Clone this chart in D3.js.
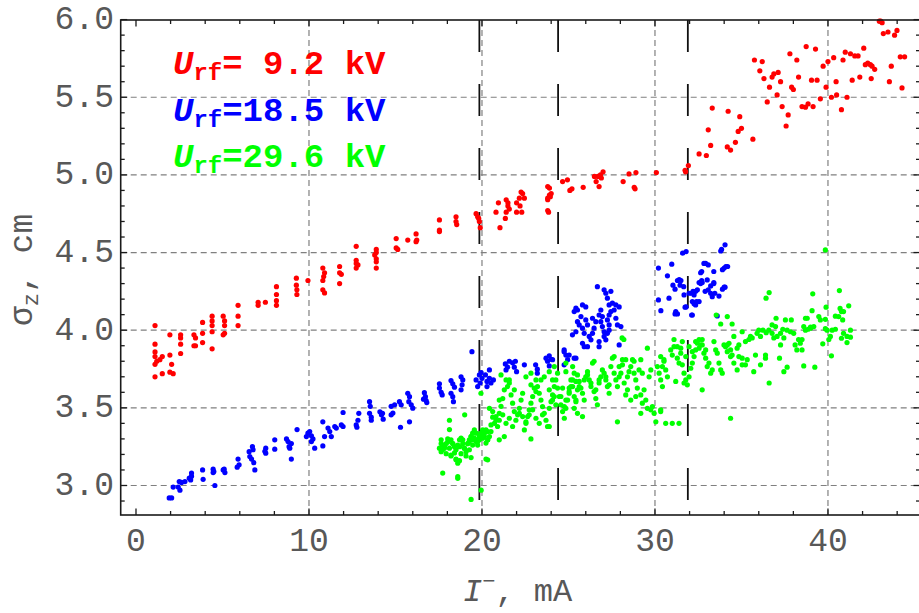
<!DOCTYPE html>
<html>
<head>
<meta charset="utf-8">
<script src="https://cdn.jsdelivr.net/npm/d3@7"></script>
<style>
html,body{margin:0;padding:0;background:#fff;}
svg{display:block;}
</style>
</head>
<body>
<svg id="chart" width="919" height="613"></svg>
<script>
// ---- data (I in mA, sigma_z in cm) ----
const redSeries = [[1.10,4.03],[1.10,3.91],[1.10,3.86],[1.10,3.83],[1.20,3.80],[1.10,3.78],[1.10,3.70],[1.52,3.83],[1.38,3.81],[1.52,3.72],[1.96,3.97],[1.96,3.84],[2.06,3.78],[1.96,3.73],[2.15,3.72],[2.58,3.97],[2.58,3.95],[2.58,3.91],[2.58,3.85],[3.35,3.97],[3.44,3.95],[3.35,3.90],[3.44,3.90],[3.85,4.05],[3.85,3.98],[3.85,3.92],[4.40,4.09],[4.40,4.06],[4.40,4.03],[4.40,3.99],[4.40,3.88],[5.04,4.09],[5.12,4.06],[5.12,4.03],[5.12,3.98],[5.04,3.97],[5.90,4.16],[5.90,4.09],[5.90,4.03],[7.06,4.18],[7.06,4.16],[7.48,4.18],[8.12,4.28],[8.12,4.23],[8.12,4.19],[8.12,4.16],[9.27,4.335],[9.27,4.29],[9.30,4.26],[9.30,4.23],[9.94,4.32],[10.80,4.40],[10.90,4.37],[10.85,4.345],[10.80,4.32],[10.80,4.26],[10.90,4.24],[11.77,4.41],[11.87,4.36],[11.77,4.37],[11.77,4.30],[12.73,4.54],[12.73,4.45],[12.73,4.43],[12.83,4.42],[12.73,4.40],[13.89,4.52],[13.89,4.50],[13.80,4.485],[13.89,4.46],[13.89,4.44],[13.89,4.40],[15.04,4.59],[15.04,4.53],[15.13,4.52],[15.71,4.58],[16.19,4.62],[16.23,4.58],[16.19,4.57],[17.54,4.71],[17.54,4.645],[17.54,4.635],[18.50,4.73],[18.50,4.70],[18.54,4.68],[19.66,4.75],[19.75,4.73],[19.81,4.72],[19.85,4.70],[19.90,4.66],[20.81,4.76],[20.95,4.82],[21.04,4.66],[21.35,4.72],[21.40,4.84],[21.50,4.82],[21.50,4.80],[21.58,4.78],[21.40,4.76],[22.00,4.82],[22.00,4.76],[22.16,4.85],[22.26,4.89],[22.35,4.88],[22.45,4.85],[22.30,4.76],[22.20,4.80],[23.80,4.925],[23.90,4.915],[23.90,4.87],[23.95,4.86],[23.80,4.85],[23.80,4.84],[23.80,4.77],[23.85,4.76],[24.00,4.88],[24.66,4.957],[24.94,4.968],[25.08,4.90],[25.20,4.91],[25.85,4.92],[26.50,4.99],[26.60,4.957],[26.70,4.99],[26.77,4.925],[26.85,5.00],[27.00,5.02],[26.90,4.98],[28.16,4.957],[28.50,5.006],[28.90,5.015],[28.80,4.92],[28.85,4.91],[30.08,5.015],[31.74,5.03],[31.93,5.06],[31.77,5.02],[32.55,5.135],[32.97,5.125],[33.08,5.29],[33.22,5.19],[33.31,5.43],[34.18,5.18],[34.37,5.16],[34.23,5.41],[34.65,5.21],[34.81,5.28],[35.00,5.30],[34.90,5.375],[35.66,5.23],[35.75,5.74],[36.20,5.73],[36.06,5.67],[36.30,5.62],[36.49,5.47],[36.62,5.565],[36.77,5.63],[36.87,5.65],[37.06,5.515],[37.12,5.66],[37.26,5.60],[37.35,5.44],[37.58,5.315],[37.70,5.386],[37.80,5.78],[37.90,5.565],[38.00,5.55],[38.20,5.74],[38.30,5.63],[38.50,5.44],[38.70,5.436],[38.85,5.457],[39.14,5.44],[38.74,5.826],[39.28,5.81],[39.05,5.61],[39.37,5.61],[39.56,5.49],[39.72,5.70],[39.89,5.565],[40.00,5.73],[40.20,5.50],[40.50,5.515],[40.33,5.755],[40.47,5.60],[40.78,5.42],[40.87,5.74],[41.00,5.79],[41.10,5.50],[41.30,5.78],[41.55,5.766],[41.74,5.766],[41.40,5.61],[41.84,5.63],[42.07,5.816],[42.16,5.71],[42.30,5.72],[42.45,5.71],[42.55,5.70],[42.70,5.68],[42.50,5.62],[42.97,5.99],[43.13,5.98],[43.05,5.99],[43.20,5.91],[43.47,5.92],[43.66,5.70],[43.55,5.60],[43.85,5.90],[43.99,5.93],[44.28,5.56],[44.18,5.76],[44.43,5.76]];

const blueSeries = [[1.92,2.92],[2.06,2.92],[2.15,2.99],[2.50,3.025],[2.44,2.99],[2.54,2.97],[2.63,3.02],[2.83,3.025],[3.08,3.047],[3.21,3.08],[3.16,3.036],[3.21,3.06],[3.85,3.10],[3.88,3.04],[4.46,3.105],[4.50,3.09],[4.46,3.083],[4.56,3.00],[5.04,3.10],[5.14,3.083],[5.10,3.105],[5.90,3.17],[5.96,3.133],[5.85,3.118],[6.54,3.218],[6.58,3.186],[6.73,3.25],[6.77,3.23],[6.68,3.17],[6.81,3.147],[6.87,3.10],[7.50,3.24],[7.50,3.208],[7.45,3.22],[8.02,3.294],[8.02,3.234],[8.70,3.30],[8.79,3.283],[8.85,3.25],[8.89,3.24],[8.98,3.27],[8.98,3.17],[9.31,3.36],[9.85,3.315],[9.94,3.337],[10.04,3.347],[10.14,3.32],[10.23,3.30],[10.33,3.24],[10.14,3.283],[10.80,3.41],[10.90,3.315],[10.80,3.255],[11.10,3.37],[11.20,3.347],[11.29,3.315],[11.58,3.37],[11.49,3.38],[11.87,3.39],[11.97,3.47],[11.97,3.38],[12.73,3.39],[12.83,3.42],[12.88,3.465],[12.77,3.375],[13.50,3.54],[13.54,3.51],[13.50,3.465],[13.60,3.42],[13.60,3.44],[14.10,3.475],[14.19,3.455],[14.29,3.427],[14.25,3.465],[14.75,3.51],[14.75,3.455],[14.85,3.466],[14.95,3.52],[15.23,3.54],[15.33,3.52],[15.29,3.375],[15.81,3.41],[15.71,3.594],[15.81,3.572],[15.77,3.54],[15.91,3.52],[16.00,3.498],[16.67,3.598],[16.73,3.572],[16.77,3.547],[16.81,3.534],[16.62,3.556],[17.54,3.627],[17.64,3.60],[17.54,3.655],[17.70,3.583],[18.21,3.676],[18.31,3.655],[18.41,3.633],[18.21,3.594],[18.31,3.572],[18.35,3.54],[18.79,3.70],[18.85,3.648],[18.79,3.616],[18.89,3.68],[19.42,3.862],[19.66,3.68],[19.75,3.637],[19.85,3.712],[19.89,3.66],[20.00,3.69],[19.95,3.727],[20.20,3.712],[20.29,3.67],[20.29,3.637],[20.43,3.744],[20.43,3.69],[20.52,3.66],[20.66,3.68],[21.35,3.783],[21.48,3.762],[21.39,3.744],[21.58,3.80],[21.77,3.79],[21.87,3.762],[22.00,3.733],[21.93,3.80],[22.45,3.777],[23.10,3.777],[23.20,3.749],[23.20,3.723],[23.70,3.82],[23.79,3.80],[23.89,3.835],[23.99,3.813],[24.75,3.862],[24.85,3.84],[24.95,3.81],[24.75,3.777],[25.43,3.82],[24.75,3.873],[25.04,3.84],[25.33,3.82],[23.89,3.77],[24.08,3.81],
[25.43,4.142],[25.52,4.13],[25.33,4.12],[25.81,4.163],[26.00,4.15],[25.72,4.088],[25.52,4.055],[25.62,4.034],[25.23,3.97],[25.43,3.99],[25.81,4.013],[25.91,3.98],[26.00,4.066],[26.10,4.034],[26.20,3.96],[25.81,3.916],[25.91,3.894],[26.10,3.894],[26.30,3.938],[26.39,3.98],[26.48,4.013],[26.58,4.055],[26.39,4.077],[26.67,4.28],[26.77,4.098],[26.87,4.13],[26.96,4.088],[26.87,4.055],[26.96,4.023],[27.06,3.99],[27.06,3.96],[26.77,3.927],[26.77,3.894],[27.16,3.938],[27.25,3.98],[27.35,4.00],[27.35,4.034],[27.25,4.066],[27.35,4.098],[27.45,4.12],[27.35,4.163],[27.25,4.206],[27.16,4.238],[27.06,4.26],[27.45,4.25],[27.54,4.174],[27.64,4.13],[27.74,4.077],[27.83,4.034],[27.93,4.15],[28.03,4.023],[27.93,3.905],[27.74,4.163],
[30.20,4.40],[30.72,4.35],[30.97,4.425],[31.04,4.29],[31.16,4.264],[31.30,4.32],[31.50,4.32],[31.40,4.325],[31.60,4.496],[31.80,4.506],[32.70,4.378],[32.83,4.43],[33.08,4.42],[33.40,4.378],[32.73,4.307],[33.40,4.307],[33.80,4.51],[34.05,4.55],[33.85,4.52],[33.90,4.39],[34.10,4.41],[34.00,4.277],[30.81,4.206],[30.20,4.195],[30.34,4.126],[31.20,4.12],[31.30,4.105],[31.16,4.105],[31.68,4.227],[31.80,4.15],[31.97,4.238],[32.16,4.184],[32.26,4.227],[32.35,4.163],[32.45,4.26],[32.55,4.184],[32.64,4.30],[32.93,4.43],[33.02,4.324],[32.16,4.098],[31.45,4.29],[31.66,4.28],[31.74,4.148],[32.12,4.238],[32.12,4.098],[32.26,4.17],[32.40,4.184],[32.20,4.25],[32.35,4.25],[32.55,4.307],[32.70,4.32],[32.64,4.37],[32.90,4.25],[33.08,4.26],[33.22,4.238],[33.31,4.216],[33.46,4.238],[33.70,4.22],[33.22,4.285],[33.40,4.30],[34.00,4.40],[34.20,4.41],[33.90,4.264],[34.05,4.277],[33.60,4.092]];

const greenSeries = [[18.12,3.42],[18.12,3.36],[19.00,3.455],[17.64,3.294],[17.73,3.26],[17.83,3.24],[17.93,3.27],[18.02,3.30],[18.21,3.294],[18.31,3.27],[18.41,3.25],[18.50,3.23],[18.60,3.26],[18.70,3.294],[18.79,3.305],[18.89,3.27],[18.98,3.24],[19.08,3.218],[19.18,3.27],[19.27,3.294],[19.37,3.315],[19.46,3.337],[19.56,3.358],[19.66,3.283],[19.75,3.26],[19.85,3.294],[19.95,3.337],[20.04,3.358],[20.14,3.315],[20.23,3.273],[20.33,3.294],[17.54,3.24],[17.64,3.218],[17.73,3.08],[18.60,3.058],[19.37,3.18],[18.21,3.19],[18.50,3.17],[18.70,3.16],[19.37,2.91],[19.95,2.97],[18.60,3.046],[20.33,3.165],
[17.64,3.27],[17.73,3.23],[17.83,3.25],[17.93,3.205],[18.02,3.28],[18.12,3.24],[18.21,3.195],[18.31,3.27],[18.41,3.21],[18.50,3.165],[18.60,3.144],[18.70,3.25],[18.79,3.205],[18.89,3.294],[18.98,3.24],[19.08,3.19],[19.18,3.27],[19.27,3.23],[19.37,3.315],[19.46,3.26],[19.56,3.305],[19.66,3.337],[19.75,3.283],[19.85,3.305],[19.95,3.337],[20.04,3.305],[20.14,3.337],[20.23,3.358],[20.33,3.294],[20.43,3.315],[20.52,3.347],
[19.94,3.594],[20.43,3.497],[20.62,3.44],[20.72,3.40],[20.81,3.42],[20.90,3.38],[21.00,3.465],[21.10,3.51],[21.20,3.56],[21.29,3.616],[21.10,3.712],[21.39,3.68],[21.48,3.637],[21.58,3.66],[21.68,3.583],[21.77,3.53],[21.87,3.476],[21.96,3.42],[22.06,3.455],[22.16,3.497],[22.26,3.55],[22.35,3.594],[22.45,3.358],[22.54,3.40],[22.64,3.444],[22.73,3.487],[22.83,3.53],[22.83,3.723],[22.93,3.573],[23.02,3.627],[23.12,3.68],[23.21,3.637],[23.31,3.594],[23.41,3.55],[23.50,3.508],[23.60,3.465],[23.70,3.42],[23.79,3.38],[23.89,3.497],[23.99,3.54],[24.08,3.583],[24.18,3.637],[24.27,3.68],[24.37,3.627],[24.47,3.573],[24.56,3.52],[24.66,3.476],[24.76,3.433],[24.85,3.497],[24.95,3.55],[25.04,3.594],[25.14,3.637],[25.24,3.68],[25.33,3.723],[25.43,3.67],[25.52,3.616],[25.43,3.55],[25.33,3.497],[25.52,3.465],[24.85,3.788],[25.24,3.766],
[20.62,3.476],[20.81,3.444],[21.00,3.42],[21.20,3.455],[21.39,3.40],[21.58,3.433],[21.77,3.38],[22.16,3.465],[22.35,3.444],[22.54,3.41],[22.73,3.455],[22.93,3.487],[23.12,3.433],[23.31,3.40],[23.50,3.455],[20.33,3.347],[20.52,3.39],[19.85,3.32],[20.04,3.347],[19.46,3.294],[19.66,3.294],[19.27,3.283],[20.23,3.17],[21.00,3.294],[21.29,3.315],[22.83,3.30],[23.89,3.38],[25.81,3.444],
[21.00,3.55],[21.58,3.68],[21.87,3.616],[22.54,3.70],[22.83,3.648],[23.12,3.605],[23.41,3.68],[23.60,3.70],[23.89,3.616],[24.18,3.573],[24.85,3.733],[25.04,3.627],[25.62,3.637],[25.91,3.68],[26.10,3.712],[26.30,3.66],[26.48,3.80],[26.58,3.616],[26.77,3.68],[27.16,3.70],[27.35,3.648],[27.64,3.83],[27.93,3.70],[28.12,3.777],[28.31,3.81],[28.41,3.616],[28.60,3.55],[28.79,3.80],[28.89,3.573],[29.18,3.81],[29.27,3.723],[29.37,3.616],
[23.89,3.733],[24.18,3.766],[24.08,3.68],[24.37,3.723],[24.66,3.627],[24.56,3.573],[24.85,3.55],[24.76,3.508],[24.27,3.52],[24.08,3.55],[25.04,3.605],[25.14,3.68],[25.24,3.637],[25.33,3.573],[25.43,3.54],[25.52,3.712],[25.62,3.67],[25.72,3.627],[25.81,3.594],[25.91,3.55],[26.00,3.70],[26.10,3.733],[26.20,3.68],[26.30,3.637],[26.39,3.788],[26.48,3.605],[26.58,3.56],[26.67,3.52],[26.77,3.66],[26.87,3.70],[26.96,3.744],[27.06,3.723],[27.16,3.68],[27.25,3.637],[27.35,3.594],[27.45,3.766],[27.54,3.82],[27.64,3.723],[27.74,3.68],[27.83,3.637],[27.93,3.766],[28.03,3.723],[28.12,3.81],[28.22,3.66],[28.31,3.583],[28.41,3.70],[28.50,3.733],[28.60,3.766],[28.70,3.81],[28.79,3.723],[28.89,3.68],[28.98,3.627],[29.08,3.744],[29.18,3.583],[29.27,3.53],[29.47,3.55],[29.56,3.497],[29.66,3.70],[29.76,3.744],[29.85,3.508],[29.95,3.465],[30.05,3.41],[30.14,3.766],[30.24,3.723],[30.33,3.68],[30.43,3.637],[30.52,3.80],[27.83,3.41],[28.10,3.95],[28.20,3.94],[29.56,3.884],[31.10,3.94],[31.29,3.894],[31.49,3.852],[31.58,3.927],[31.78,3.83],[31.97,3.894],[32.16,3.862],[32.35,3.927],[32.55,3.94],[32.73,3.905],[32.93,3.873],[29.18,3.465],[29.76,3.487],[30.33,3.476],[30.62,3.40],[31.00,3.40],[31.39,3.40],
[39.85,4.517],[36.42,4.206],[36.60,4.242],[39.12,4.234],[40.66,4.255],[33.54,4.098],[33.80,4.04],[34.18,4.088],[34.46,4.04],[39.89,4.148],[39.08,4.126],[40.70,4.14],[40.90,4.12],[41.20,4.157],[38.70,4.077],[38.80,4.077],[39.47,4.088],[39.56,4.066],[39.85,4.07],[40.43,4.09],[40.62,4.088],[40.78,4.12],[40.85,4.066],[37.00,4.077],[37.54,4.066],[37.88,4.066],[38.60,4.023],[38.99,4.013],[39.18,4.023],[39.85,4.01],[39.95,4.00],[40.24,4.00],[40.43,4.006],[40.78,3.948],[40.90,3.98],[41.10,3.96],[41.30,4.00],[41.30,3.955],[41.10,3.92],[40.05,3.94],[40.14,3.96],[39.70,3.912],[40.20,3.835],[38.30,3.94],[38.40,3.916],[38.50,3.94],[38.10,3.905],[38.20,3.873],[38.50,3.873],[38.70,4.00],[38.85,4.006],[38.99,4.02],[38.02,3.98],[37.83,3.99],[37.64,4.00],[37.39,4.006],[37.26,3.98],[37.06,3.96],[36.87,3.95],[36.77,3.98],[36.58,4.00],[36.43,3.984],[36.24,4.00],[36.97,4.023],[36.77,4.034],[37.26,3.905],[37.45,3.95],[36.00,4.00],[35.90,3.98],[36.10,3.96],[35.62,3.95],[35.43,3.94],[35.52,3.96],[35.23,3.927],[35.04,3.99],[34.85,3.905],[34.75,3.884],[34.56,3.96],[34.28,3.916],[34.18,3.905],[34.37,3.873],[34.46,3.84],[34.85,3.83],[35.04,3.82],[35.23,3.777],[35.33,3.81],[35.81,3.84],[35.71,3.733],[36.10,3.777],[36.39,3.82],[36.39,3.84],[36.60,3.66],[37.20,3.82],[37.45,3.733],[37.64,3.762],[38.60,3.77],[39.24,3.762],
[30.33,3.83],[30.52,3.81],[30.43,3.766],[30.62,3.744],[30.72,3.70],[30.91,3.873],[31.00,3.84],[31.10,3.894],[31.29,3.82],[31.39,3.788],[31.49,3.884],[31.58,3.777],[31.68,3.723],[31.78,3.68],[31.87,3.648],[31.20,3.67],[31.68,3.66],[31.97,3.70],[32.07,3.755],[32.16,3.788],[32.26,3.83],[32.35,3.873],[32.45,3.916],[32.55,3.884],[32.64,3.905],[32.73,3.94],[32.83,3.852],[32.93,3.82],[33.02,3.766],[33.12,3.788],[33.22,3.723],[33.31,3.744],[33.41,3.927],[33.51,3.873],[33.60,3.852],[33.70,3.788],[33.80,3.744],[33.89,3.723],[33.99,3.905],[34.08,3.894],[34.18,3.862],[34.37,3.83],[34.56,3.788],[34.75,3.744],[35.04,3.777],[32.73,3.616],[34.37,3.433],[30.33,3.487]];

const xTicks = [0, 10, 20, 30, 40];
const yTicks = [3.0, 3.5, 4.0, 4.5, 5.0, 5.5, 6.0];
const xGrid = [10, 20, 30, 40];
const yGrid = [3.0, 3.5, 4.0, 4.5, 5.0, 5.5];
const markerLines = [19.85, 24.4, 31.9];
const legendValues = ["= 9.2 kV", "=18.5 kV", "=29.6 kV"];
const seriesColors = ["#ff0000", "#0000ff", "#00ff00"];

// ---- layout ----
const L = 120.7, R = 920, T = 20, B = 515;
const x = d3.scaleLinear().domain([-0.884, 45.32]).range([L, R]);
const y = d3.scaleLinear().domain([2.81, 6.0]).range([B, 19.6]);
const FONT = "'Liberation Mono', 'Courier New', monospace";
const GRAY = "#585858";

const svg = d3.select("#chart");

// gridlines
svg.append("g").selectAll("line").data(xGrid).join("line")
  .attr("x1", d => x(d)).attr("x2", d => x(d)).attr("y1", T).attr("y2", B)
  .attr("stroke", "#808080").attr("stroke-width", 1.2).attr("stroke-dasharray", "6,4");
svg.append("g").selectAll("line").data(yGrid).join("line")
  .attr("x1", L).attr("x2", R).attr("y1", d => y(d)).attr("y2", d => y(d))
  .attr("stroke", "#808080").attr("stroke-width", 1.2).attr("stroke-dasharray", "6,4");

// vertical marker lines (long dashes)
svg.append("g").selectAll("line").data(markerLines).join("line")
  .attr("x1", d => x(d)).attr("x2", d => x(d)).attr("y1", T).attr("y2", B)
  .attr("stroke", "#111").attr("stroke-width", 1.8)
  .attr("stroke-dasharray", "32,32").attr("stroke-dashoffset", 0);

// points
[redSeries, blueSeries, greenSeries].forEach((s, i) => {
  svg.append("g").selectAll("circle").data(s).join("circle")
    .attr("cx", d => x(d[0])).attr("cy", d => y(d[1])).attr("r", 2.6)
    .attr("fill", seriesColors[i]);
});

// frame
const frame = svg.append("g").attr("stroke", "#1a1a1a").attr("stroke-width", 1.6).attr("fill", "none");
frame.append("rect").attr("x", L).attr("y", T).attr("width", R - L).attr("height", B - T);

// ticks
const xMinor = d3.range(0, 45, 2);
const yMinor = d3.range(29, 61).map(v => v / 10);
const isMajorX = v => v % 10 === 0;
const isMajorY = v => Math.abs(v * 2 - Math.round(v * 2)) < 1e-6;
const tk = svg.append("g").attr("stroke", "#1a1a1a").attr("stroke-width", 1.3);
xMinor.forEach(v => {
  const len = isMajorX(v) ? 6.5 : 4;
  tk.append("line").attr("x1", x(v)).attr("x2", x(v)).attr("y1", B).attr("y2", B - len);
  tk.append("line").attr("x1", x(v)).attr("x2", x(v)).attr("y1", T).attr("y2", T + len);
});
yMinor.forEach(v => {
  const len = isMajorY(v) ? 6.5 : 4;
  tk.append("line").attr("x1", L).attr("x2", L + len).attr("y1", y(v)).attr("y2", y(v));
  tk.append("line").attr("x1", R).attr("x2", R - len).attr("y1", y(v)).attr("y2", y(v));
});

// tick labels
svg.append("g").selectAll("text").data(xTicks).join("text")
  .attr("x", d => x(d)).attr("y", 551).attr("text-anchor", "middle")
  .attr("font-family", FONT).attr("font-size", 33).attr("fill", GRAY)
  .text(d => d);
svg.append("g").selectAll("text").data(yTicks).join("text")
  .attr("x", 114).attr("y", d => y(d)).attr("dy", "0.29em").attr("text-anchor", "end")
  .attr("font-family", FONT).attr("font-size", 33).attr("fill", GRAY)
  .text(d => d.toFixed(1));

// axis titles
const xt = svg.append("text").attr("x", 463).attr("y", 601)
  .attr("font-family", FONT).attr("font-size", 32).attr("fill", GRAY);
xt.append("tspan").attr("font-style", "italic").text("I");
xt.append("tspan").attr("font-size", 22).attr("dy", -13).text("\u2212");
xt.append("tspan").attr("dy", 13).text(", mA");

const yt = svg.append("text").attr("transform", "translate(32,326) rotate(-90)")
  .attr("font-family", FONT).attr("font-size", 33).attr("fill", GRAY);
yt.append("tspan").text("\u03c3");
yt.append("tspan").attr("font-size", 22).attr("dy", 6).text("z");
yt.append("tspan").attr("dy", -6).text(", cm");

// legend
legendValues.forEach((v, i) => {
  const t = svg.append("text").attr("x", 173).attr("y", 74 + i * 46.5)
    .attr("font-family", FONT).attr("font-size", 34).attr("font-weight", "bold")
    .attr("fill", seriesColors[i]);
  t.append("tspan").attr("font-style", "italic").text("U");
  t.append("tspan").attr("font-size", 24).attr("dy", 6).text("rf");
  t.append("tspan").attr("dy", -6).text(v);
});
</script>
</body>
</html>
